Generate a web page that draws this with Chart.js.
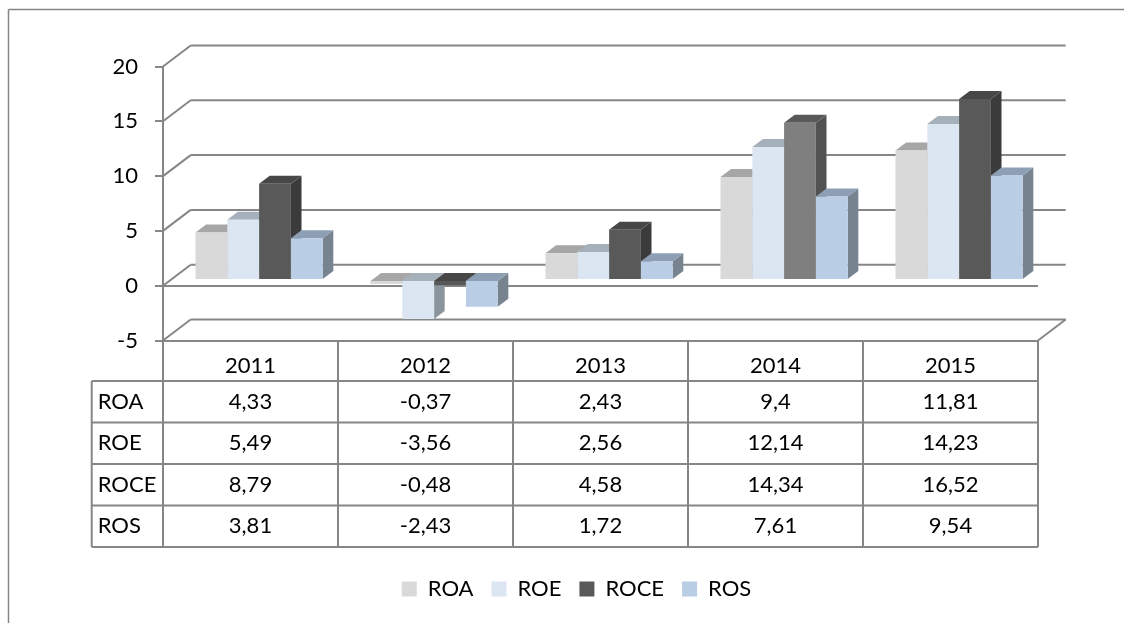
<!DOCTYPE html>
<html>
<head>
<meta charset="utf-8">
<title>ROA ROE ROCE ROS</title>
<script src="https://cdn.jsdelivr.net/npm/chart.js@4"></script>
<style>
  html, body { margin: 0; padding: 0; background: #fff; }
  canvas { display: block; }
</style>
</head>
<body>
<canvas id="ratios" width="1124" height="623"></canvas>
<script>
var years = ["2011", "2012", "2013", "2014", "2015"];
var seriesNames = ["ROA", "ROE", "ROCE", "ROS"];
var roa = [4.33, -0.37, 2.43, 9.4, 11.81];
var roe = [5.49, -3.56, 2.56, 12.14, 14.23];
var roce = [8.79, -0.48, 4.58, 14.34, 16.52];
var ros = [3.81, -2.43, 1.72, 7.61, 9.54];

var frontColors = ["#d9d9d9", "#dce6f2", "#595959", "#b9cde5"];
var topColors = ["#a6a6a6", "#a5b0bb", "#474747", "#8d9fb5"];
var sideColors = ["#9a9a9a", "#8a949d", "#3b3b3b", "#77838f"];

// the 2014 ROCE column is lighter than the rest of its series
var roce2014 = { front: "#7f7f7f", top: "#595959", side: "#525252" };

var lineColor = "#868686";
var font = { family: "Lato", size: 22 };

// wall depth and where the columns stand inside it
var wallX = 27.7, wallY = 21;
var barShiftX = 8.6, barShiftY = 5.7;
var barDepthX = 10.6, barDepthY = 8;

var rowHeight = 41.5;
var rowLabelLeft = 91.7;

function faceColor(datasetIndex, index, face) {
  if (datasetIndex === 2 && index === 3) return roce2014[face];
  if (face === "front") return frontColors[datasetIndex];
  if (face === "top") return topColors[datasetIndex];
  return sideColors[datasetIndex];
}

function line(ctx, x1, y1, x2, y2) {
  ctx.beginPath();
  ctx.moveTo(x1, y1);
  ctx.lineTo(x2, y2);
  ctx.stroke();
}

function poly(ctx, points, color) {
  ctx.fillStyle = color;
  ctx.beginPath();
  ctx.moveTo(points[0], points[1]);
  for (var i = 2; i < points.length; i += 2) ctx.lineTo(points[i], points[i + 1]);
  ctx.closePath();
  ctx.fill();
}

var framePlugin = {
  id: "frame",
  beforeDraw: function(chart) {
    var ctx = chart.ctx;
    ctx.save();
    ctx.strokeStyle = lineColor;
    ctx.lineWidth = 1.5;
    line(ctx, 8.5, 9.5, 8.5, 623);
    line(ctx, 8.5, 9.5, 1124, 9.5);
    ctx.restore();
  }
};

// nudge the centred legend a little to the right
var legendShiftPlugin = {
  id: "legendShift",
  afterLayout: function(chart) {
    chart.legend.left += 15;
  }
};

// back wall gridlines and the diagonals running up to them
var wallPlugin = {
  id: "wall",
  beforeDatasetsDraw: function(chart) {
    var ctx = chart.ctx, area = chart.chartArea, y = chart.scales.y;
    ctx.save();
    ctx.strokeStyle = lineColor;
    ctx.lineWidth = 2;
    y.ticks.forEach(function(tick) {
      var py = y.getPixelForValue(tick.value);
      line(ctx, area.left, py, area.left + wallX, py - wallY);
      line(ctx, area.left + wallX, py - wallY, area.right + wallX, py - wallY);
    });
    line(ctx, area.right, area.bottom, area.right + wallX, area.bottom - wallY);
    ctx.restore();
  }
};

// all top and side faces go in first, series left to right; the library paints fronts over them
var columnPlugin = {
  id: "columns",
  beforeDatasetsDraw: function(chart) {
    var ctx = chart.ctx;
    ctx.save();
    ctx.translate(barShiftX, -barShiftY);
    seriesNames.forEach(function(name, di) {
      chart.getDatasetMeta(di).data.forEach(function(bar, i) {
        var left = bar.x - bar.width / 2, right = bar.x + bar.width / 2;
        var high = Math.min(bar.y, bar.base), low = Math.max(bar.y, bar.base);
        poly(ctx, [right, high, right + barDepthX, high - barDepthY, right + barDepthX, low - barDepthY, right, low], faceColor(di, i, "side"));
        poly(ctx, [left, high, right, high, right + barDepthX, high - barDepthY, left + barDepthX, high - barDepthY], faceColor(di, i, "top"));
      });
    });
    ctx.restore();
  },
  beforeDatasetDraw: function(chart) {
    chart.ctx.save();
    chart.ctx.translate(barShiftX, -barShiftY);
  },
  afterDatasetDraw: function(chart) {
    chart.ctx.restore();
  }
};

// data table under the axis
var tablePlugin = {
  id: "dataTable",
  afterDraw: function(chart) {
    var ctx = chart.ctx, area = chart.chartArea, x = chart.scales.x;
    var rows = [roa, roe, roce, ros];
    var top = area.bottom + 40.5;
    ctx.save();
    ctx.strokeStyle = lineColor;
    ctx.lineWidth = 2;
    rows.forEach(function(row, r) {
      line(ctx, rowLabelLeft, top + r * rowHeight, area.right, top + r * rowHeight);
    });
    line(ctx, rowLabelLeft, top + rows.length * rowHeight, area.right, top + rows.length * rowHeight);
    line(ctx, rowLabelLeft, top, rowLabelLeft, top + rows.length * rowHeight);

    ctx.fillStyle = "#000";
    ctx.font = font.size + "px " + font.family;
    ctx.textBaseline = "middle";
    rows.forEach(function(row, r) {
      var cy = top + (r + 0.5) * rowHeight;
      ctx.textAlign = "left";
      ctx.fillText(seriesNames[r], rowLabelLeft + 6, cy);
      ctx.textAlign = "center";
      row.forEach(function(v, i) {
        ctx.fillText(String(v).replace(".", ","), x.getPixelForTick(i), cy);
      });
    });
    ctx.restore();
  }
};

var allSeries = [roa, roe, roce, ros];

new Chart(document.getElementById("ratios"), {
  type: "bar",
  data: {
    labels: years,
    datasets: allSeries.map(function(values, di) {
      return {
        label: seriesNames[di],
        data: values,
        clip: false,
        backgroundColor: function(c) { return faceColor(di, c.dataIndex, "front"); },
        categoryPercentage: 0.727,
        barPercentage: 1
      };
    })
  },
  options: {
    responsive: false,
    animation: false,
    font: font,
    layout: { padding: { left: 100, right: 86, top: 66.5, bottom: 13 } },
    plugins: {
      tooltip: { enabled: false },
      legend: {
        position: "bottom",
        onClick: null,
        labels: {
          boxWidth: 15,
          boxHeight: 15,
          padding: 18,
          color: "#000",
          font: font,
          generateLabels: function() {
            return seriesNames.map(function(name, i) {
              return { text: name, fillStyle: frontColors[i], strokeStyle: "rgba(0,0,0,0)", lineWidth: 0, datasetIndex: i };
            });
          }
        }
      }
    },
    scales: {
      x: {
        afterFit: function(scale) { scale.height = 219.5; },
        border: { color: lineColor, width: 2 },
        grid: { drawOnChartArea: false, color: lineColor, lineWidth: 2, tickLength: 206.5, offset: true },
        ticks: { color: "#000", font: font, padding: -194, maxRotation: 0, minRotation: 0 }
      },
      y: {
        min: -5,
        max: 20,
        afterFit: function(scale) { scale.width = 63; },
        border: { color: lineColor, width: 2 },
        grid: {
          lineWidth: 2,
          tickLength: 8,
          tickColor: lineColor,
          color: function(c) {
            return c.tick && (c.tick.value === 0 || c.tick.value === -5) ? lineColor : "rgba(0,0,0,0)";
          }
        },
        ticks: { stepSize: 5, color: "#000", font: font, padding: 17 }
      }
    }
  },
  plugins: [framePlugin, legendShiftPlugin, wallPlugin, columnPlugin, tablePlugin]
});
</script>
</body>
</html>
